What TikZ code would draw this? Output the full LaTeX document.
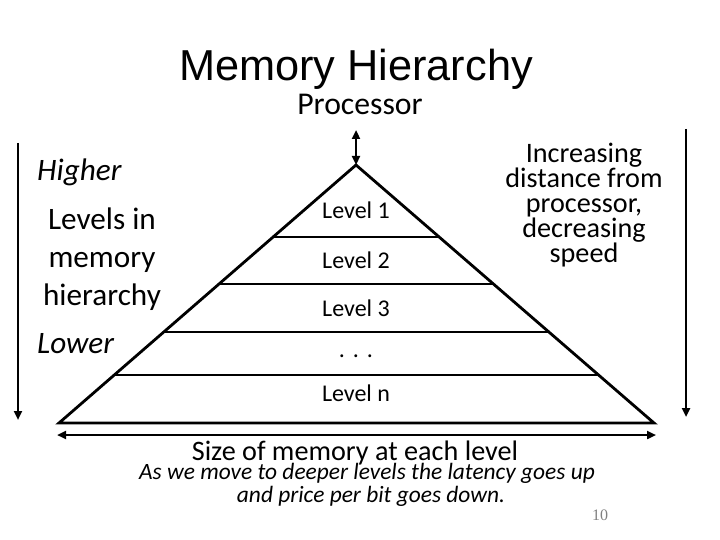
\documentclass[tikz,border=0pt]{standalone}
\usepackage{fontspec}
\setmainfont{Carlito}
\newfontfamily\titlefont{Liberation Sans}
\newfontfamily\pagefont{Liberation Serif}
\usetikzlibrary{positioning, calc, arrows.meta}
\definecolor{pagegray}{HTML}{808080}
\tikzset{
  pyr/.style={line width=2.8pt},
  down/.style={line width=2.4pt, -{Triangle[length=9pt, width=8pt]}},
  both/.style={line width=2.4pt, {Triangle[length=9pt, width=8pt]}-{Triangle[length=9pt, width=8pt]}},
  txt/.style={inner sep=0pt, anchor=base},
  lvl/.style={inner sep=0pt, font=\fontsize{24}{26}\selectfont},
}

\begin{document}
\begin{tikzpicture}[x=1pt, y=-1pt]
  \useasboundingbox (0,0) rectangle (720,540);
  % heading
  \node[txt, font=\titlefont\fontsize{43.3}{46}\selectfont] (title) at (356,81) {Memory Hierarchy};
  \node[txt, font=\fontsize{31.7}{34}\selectfont] (cpu) at (360,115) {Processor};
  % pyramid
  \coordinate (apex) at (356,165);
  \coordinate (bl) at (59,423);
  \coordinate (br) at (654,423);
  \draw[pyr] (apex) -- (bl) -- (br) -- cycle;
  \foreach \t in {0.279, 0.461, 0.647, 0.814}{
    \draw[pyr] ($(apex)!\t!(bl)$) -- ($(apex)!\t!(br)$);
  }
  \foreach \y/\lab [count=\i] in {210/Level 1, 260/Level 2, 308/Level 3, 393/Level n}{
    \node[lvl] (lvl\i) at (356,\y) {\lab};
  }
  \node[lvl, anchor=base] (dots) at (356,357) {.\,\,.\,\,.};
  % arrows
  \coordinate (cputop) at (356,130);
  \draw[both] (cputop) -- (apex);
  \coordinate (sizel) at (57,435);
  \coordinate (sizer) at (656,435);
  \draw[both] (sizel) -- (sizer);
  \coordinate (lefttop) at (18,143);
  \coordinate (leftbot) at (18,420);
  \draw[down] (lefttop) -- (leftbot);
  \coordinate (righttop) at (686,129);
  \coordinate (rightbot) at (686,417);
  \draw[down] (righttop) -- (rightbot);
  % side texts
  \node[txt, anchor=base west, font=\itshape\fontsize{31.2}{34}\selectfont] (higher) at (37,181) {Higher};
  \node[inner sep=0pt, align=center, font=\fontsize{31.2}{38}\selectfont] (levels) at (102,259) {Levels in\\memory\\hierarchy};
  \node[txt, anchor=base west, font=\itshape\fontsize{31.2}{34}\selectfont] (lower) at (37,353) {Lower};
  \node[inner sep=0pt, align=center, font=\fontsize{28.2}{25}\selectfont] (dist) at (584,205) {Increasing\\distance from\\processor,\\decreasing\\speed};
  % bottom texts
  \node[txt, font=\fontsize{28.2}{30}\selectfont] (size) at (355,460) {Size of memory at each level};
  \node[txt, font=\itshape\fontsize{23.4}{25}\selectfont] (latency) at (367,479) {As we move to deeper levels the latency goes up};
  \node[txt, font=\itshape\fontsize{23.4}{25}\selectfont] (price) at (371,502) {and price per bit goes down.};
  \node[txt, font=\pagefont\fontsize{16}{18}\selectfont, text=pagegray] (page) at (600,520) {10};
\end{tikzpicture}
\end{document}
